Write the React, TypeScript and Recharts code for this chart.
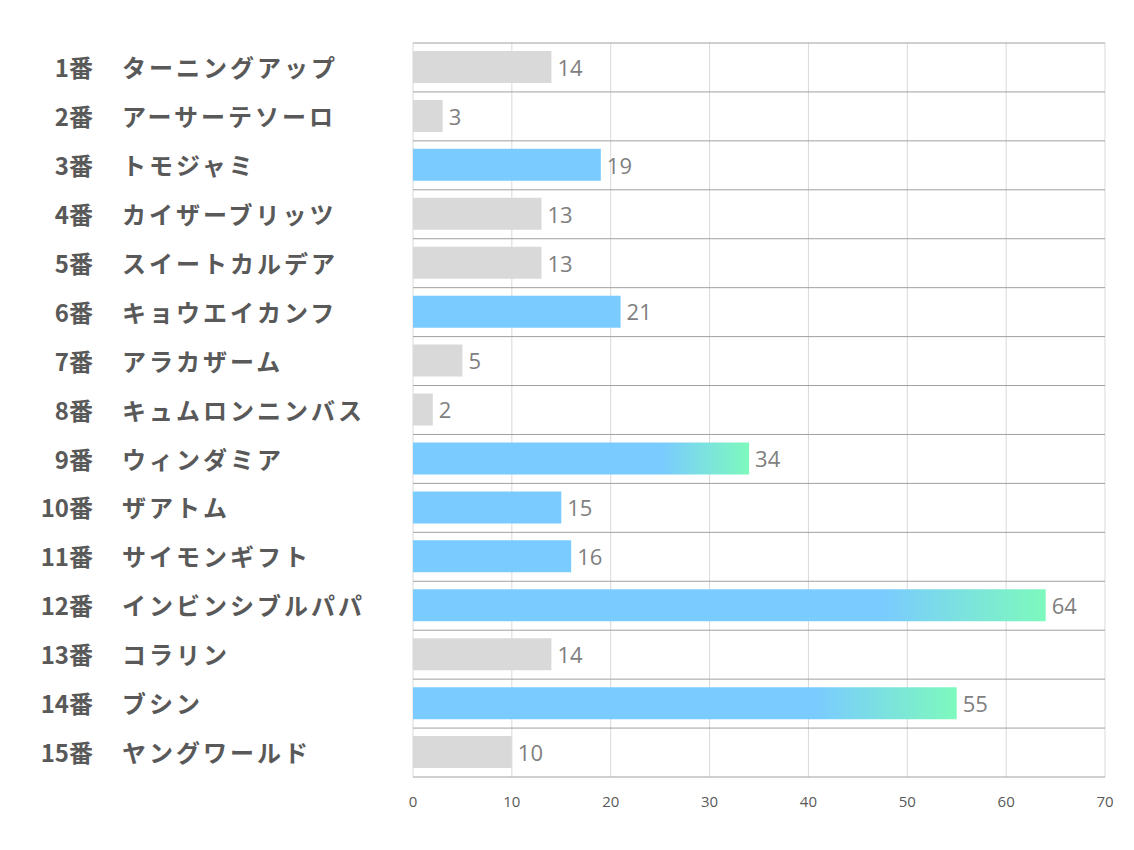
import React from 'react';
import { BarChart, Bar, XAxis, YAxis, CartesianGrid, Cell, LabelList } from 'recharts';

const horseNumbers = ['1番', '2番', '3番', '4番', '5番', '6番', '7番', '8番', '9番', '10番', '11番', '12番', '13番', '14番', '15番'];
const horseNames = ['ターニングアップ', 'アーサーテソーロ', 'トモジャミ', 'カイザーブリッツ', 'スイートカルデア', 'キョウエイカンフ', 'アラカザーム', 'キュムロンニンバス', 'ウィンダミア', 'ザアトム', 'サイモンギフト', 'インビンシブルパパ', 'コラリン', 'ブシン', 'ヤングワールド'];
const scores = [14, 3, 19, 13, 13, 21, 5, 2, 34, 15, 16, 64, 14, 55, 10];
const highlighted = ['3番', '6番', '9番', '10番', '11番', '12番', '14番'];
const xTicks = [0, 10, 20, 30, 40, 50, 60, 70];

const data = horseNumbers.map((num, i) => ({ num, name: horseNames[i], value: scores[i] }));
const top3 = [...scores].sort((a, b) => b - a).slice(0, 3);

const GRAY = '#D9D9D9';
const BLUE = '#7ACBFF';

const fillFor = (d: { num: string; value: number }) => {
  if (!highlighted.includes(d.num)) return GRAY;
  if (top3.includes(d.value)) return 'url(#topGrad)';
  return BLUE;
};

// Row boundaries: one line between each category band, plus top and bottom edges
const rowBoundaryGenerator = (args: any) => {
  const { yAxis, offset } = args || {};
  const scale = yAxis && yAxis.scale;
  try {
    if (typeof scale === 'function' && typeof scale.bandwidth === 'function') {
      const bw = scale.bandwidth();
      const starts = horseNumbers.map((n) => scale(n)).filter((v: any) => typeof v === 'number');
      if (starts.length === horseNumbers.length) {
        return [...starts, starts[starts.length - 1] + bw];
      }
    }
  } catch (e) {
    // fall through
  }
  const step = offset.height / horseNumbers.length;
  return [...horseNumbers.map((_, i) => offset.top + i * step), offset.top + offset.height];
};

const YTick = (props: any) => {
  const { x, y, payload, index } = props;
  const row = data[index] || data.find((d) => d.num === payload.value);
  return (
    <g>
      <text x={x - 320} y={y} dy="0.4em" textAnchor="end" fill="#595959" fontSize={24} fontWeight="bold" fontFamily="'Noto Sans CJK JP', 'Noto Sans', sans-serif">
        {payload.value}
      </text>
      <text x={x - 291} y={y} dy="0.4em" textAnchor="start" fill="#595959" fontSize={24} fontWeight="bold" letterSpacing={3} fontFamily="'Noto Sans CJK JP', 'Noto Sans', sans-serif">
        {row ? row.name : ''}
      </text>
    </g>
  );
};

const XTick = (props: any) => {
  const { x, y, payload } = props;
  return (
    <text x={x} y={y} dy="0.75em" textAnchor="middle" fill="#595959" fontSize={15} fontFamily="'Open Sans', sans-serif">
      {payload.value}
    </text>
  );
};

export default function App() {
  return (
    <div style={{ position: 'absolute', left: 0, top: 0, width: 1134, height: 850, background: '#fff' }}>
      <BarChart
        width={1134}
        height={850}
        data={data}
        layout="vertical"
        margin={{ top: 43, right: 29, bottom: 43, left: 0 }}
        barSize={32}
      >
        <defs>
          <linearGradient id="topGrad" x1="0" y1="0" x2="1" y2="0">
            <stop offset="0" stopColor={BLUE} />
            <stop offset="0.74" stopColor={BLUE} />
            <stop offset="1" stopColor="#7DF9BD" />
          </linearGradient>
        </defs>
        <CartesianGrid vertical horizontal={false} stroke="#D9D9D9" strokeWidth={1} />
        <CartesianGrid
          vertical={false}
          horizontal
          yAxisId="cat"
          horizontalCoordinatesGenerator={rowBoundaryGenerator}
          stroke="#A0A0A0"
          strokeWidth={1}
        />
        <XAxis
          type="number"
          domain={[0, 70]}
          ticks={xTicks}
          axisLine={false}
          tickLine={false}
          tickSize={6}
          tickMargin={13}
          height={30}
          interval={0}
          tick={<XTick />}
        />
        <YAxis
          yAxisId="cat"
          type="category"
          dataKey="num"
          width={413}
          axisLine={false}
          tickLine={false}
          tickSize={0}
          tickMargin={0}
          interval={0}
          tick={<YTick />}
        />
        <Bar yAxisId="cat" dataKey="value" isAnimationActive={false}>
          {data.map((d) => (
            <Cell key={d.num} fill={fillFor(d)} />
          ))}
          <LabelList dataKey="value" position="right" offset={6} fill="#7F7F7F" fontSize={22} fontFamily="'Open Sans', sans-serif" dy={1} />
        </Bar>
      </BarChart>
    </div>
  );
}
